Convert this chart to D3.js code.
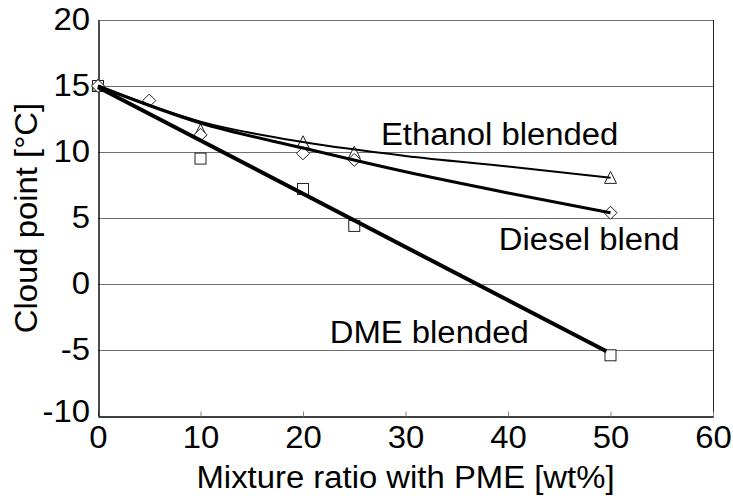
<!DOCTYPE html>
<html>
<head>
<meta charset="utf-8">
<script src="https://cdn.jsdelivr.net/npm/d3@7"></script>
<style>
  html, body { margin: 0; padding: 0; background: #fff; }
  svg { display: block; font-family: "Liberation Sans", Arial, sans-serif; }
</style>
</head>
<body>
<svg id="chart" width="733" height="500"></svg>
<script>
// Measured cloud points of PME blends
const ethanolX = [0, 10, 20, 25, 50];
const ethanolY = [15, 11.6, 10.7, 9.9, 8.0];
const dieselX = [0, 5, 10, 20, 25, 50];
const dieselY = [15, 13.9, 11.3, 9.9, 9.4, 5.4];
const dmeX = [0, 10, 20, 25, 50];
const dmeY = [15, 9.5, 7.2, 4.4, -5.4];

// Trend lines drawn through each series
const ethanolFitX = [0, 10, 20, 30, 40, 50];
const ethanolFitY = [15, 12.3, 10.75, 9.7, 8.9, 8.05];
const dieselFitX = [0, 10, 20, 30, 40, 50];
const dieselFitY = [15, 12.2, 10.3, 8.5, 6.9, 5.4];
const dmeFitX = [0, 49.6];
const dmeFitY = [14.9, -5.1];

const xTicks = [0, 10, 20, 30, 40, 50, 60];
const yTicks = [-10, -5, 0, 5, 10, 15, 20];

const svg = d3.select("#chart");
const plotLeft = 98, plotRight = 713, plotTop = 20, plotBottom = 416;
const fontSize = 31, widen = 1.06; // text is set slightly wide

const x = d3.scaleLinear().domain([0, 60]).range([plotLeft, plotRight]);
const y = d3.scaleLinear().domain([-10, 20]).range([plotBottom, plotTop]);

const zip = (xs, ys) => xs.map((v, i) => [v, ys[i]]);
const plain = d => String(d); // keep an ASCII hyphen for negatives

// horizontal grid lines
svg.append("g")
  .selectAll("line")
  .data(yTicks.filter(d => d > -10))
  .join("line")
  .attr("x1", plotLeft).attr("x2", plotRight)
  .attr("y1", d => y(d) + 0.5).attr("y2", d => y(d) + 0.5)
  .attr("stroke", "#707070").attr("stroke-width", 1);

// right frame edge
svg.append("line")
  .attr("x1", plotRight + 0.5).attr("x2", plotRight + 0.5)
  .attr("y1", plotTop).attr("y2", plotBottom + 1)
  .attr("stroke", "#222").attr("stroke-width", 1);

// x axis
const xAxis = svg.append("g")
  .attr("transform", `translate(0,${plotBottom + 0.5})`)
  .call(d3.axisBottom(x).tickValues(xTicks).tickFormat(plain)
    .tickSizeInner(-5).tickSizeOuter(0).tickPadding(9));
xAxis.select(".domain").attr("stroke", "#000").attr("stroke-width", 1.4);
xAxis.selectAll(".tick line").attr("stroke", "#888");
xAxis.selectAll(".tick text")
  .attr("font-size", fontSize).attr("fill", "#000")
  .attr("font-family", "Liberation Sans, Arial, sans-serif")
  .attr("transform", `scale(${widen},1)`);

// y axis
const yAxis = svg.append("g")
  .attr("transform", `translate(${plotLeft + 0.5},0)`)
  .call(d3.axisLeft(y).tickValues(yTicks).tickFormat(plain)
    .tickSizeInner(0).tickSizeOuter(0).tickPadding(8));
yAxis.select(".domain").attr("stroke", "#000").attr("stroke-width", 1.4);
yAxis.selectAll(".tick text")
  .attr("font-size", fontSize).attr("fill", "#000")
  .attr("font-family", "Liberation Sans, Arial, sans-serif")
  .attr("transform", `scale(${widen},1)`);
// bottom-most y label sits a little higher
yAxis.selectAll(".tick text").filter(d => d === -10).attr("dy", "0.19em");

// axis titles
svg.append("text")
  .attr("transform", `translate(${(plotLeft + plotRight) / 2},488) scale(${widen},1)`)
  .attr("text-anchor", "middle").attr("font-size", fontSize)
  .text("Mixture ratio with PME [wt%]");
svg.append("text")
  .attr("transform", `translate(37,${(plotTop + plotBottom) / 2}) rotate(-90) scale(${widen},1)`)
  .attr("text-anchor", "middle").attr("font-size", fontSize)
  .text("Cloud point [°C]");

// markers
const markers = svg.append("g").attr("fill", "#fff").attr("stroke", "#222").attr("stroke-width", 1);
markers.selectAll("rect.dme")
  .data(zip(dmeX, dmeY)).join("rect")
  .attr("x", d => x(d[0]) - 5.5).attr("y", d => y(d[1]) - 5.5)
  .attr("width", 11).attr("height", 11);
markers.selectAll("path.tri")
  .data(zip(ethanolX, ethanolY)).join("path")
  .attr("d", d => {
    const cx = x(d[0]), cy = y(d[1]);
    return `M${cx},${cy - 7}L${cx + 6},${cy + 5}L${cx - 6},${cy + 5}Z`;
  });
markers.selectAll("path.dia")
  .data(zip(dieselX, dieselY)).join("path")
  .attr("d", d => {
    const cx = x(d[0]), cy = y(d[1]);
    return `M${cx},${cy - 6.5}L${cx + 6.5},${cy}L${cx},${cy + 6.5}L${cx - 6.5},${cy}Z`;
  });

// trend lines
const line = d3.line().x(d => x(d[0])).y(d => y(d[1])).curve(d3.curveMonotoneX);
svg.append("path").datum(zip(ethanolFitX, ethanolFitY))
  .attr("d", line).attr("fill", "none").attr("stroke", "#000").attr("stroke-width", 2);
svg.append("path").datum(zip(dieselFitX, dieselFitY))
  .attr("d", line).attr("fill", "none").attr("stroke", "#000").attr("stroke-width", 3);
svg.append("path").datum(zip(dmeFitX, dmeFitY))
  .attr("d", line).attr("fill", "none").attr("stroke", "#000").attr("stroke-width", 4);

// series annotations
const notes = [
  { label: "Ethanol blended", vx: 27.6, vy: 10.5 },
  { label: "Diesel blend", vx: 39.1, vy: 2.55 },
  { label: "DME blended", vx: 22.6, vy: -4.5 }
];
svg.append("g").selectAll("text")
  .data(notes).join("text")
  .attr("transform", d => `translate(${x(d.vx)},${y(d.vy)}) scale(${widen},1)`)
  .attr("font-size", fontSize)
  .text(d => d.label);
</script>
</body>
</html>
